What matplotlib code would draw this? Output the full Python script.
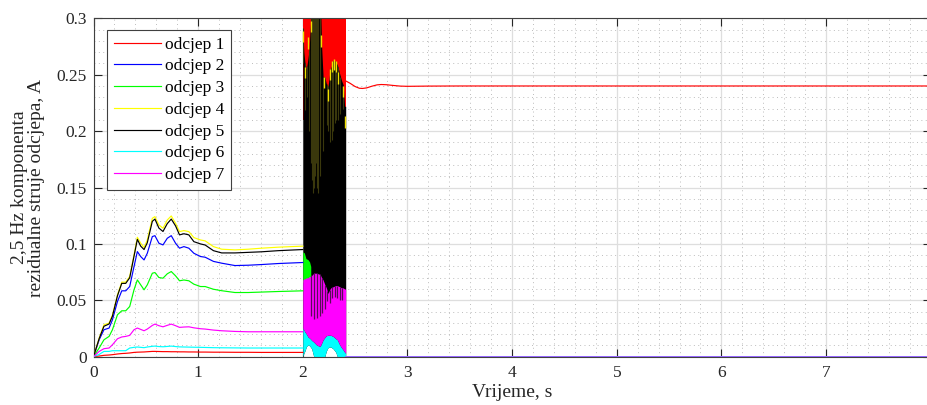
import matplotlib
matplotlib.use('Agg')
import matplotlib.pyplot as plt
from matplotlib.ticker import MultipleLocator

plt.rcParams['font.family'] = ['Liberation Serif', 'DejaVu Serif']

# ---------------- data ----------------
labels = ['odcjep 1', 'odcjep 2', 'odcjep 3', 'odcjep 4', 'odcjep 5', 'odcjep 6', 'odcjep 7']
colors = ['#ff0000', '#0000ff', '#00ff00', '#ffff00', '#000000', '#00ffff', '#ff00ff']

# time before the fault burst (s)
t_pre = [0, 0.054, 0.10, 0.149, 0.181, 0.229, 0.270, 0.308, 0.346, 0.387, 0.419, 0.451,
         0.483, 0.514, 0.562, 0.587, 0.625, 0.664, 0.705, 0.743, 0.784, 0.822, 0.864,
         0.911, 0.959, 1.022, 1.067, 1.146, 1.225, 1.352, 1.479, 1.606, 1.765, 2.0]

s1_pre = [0, 0.0006, 0.0012, 0.0015, 0.0018, 0.0024, 0.0028, 0.003, 0.0033, 0.0038, 0.004,
          0.0041, 0.0042, 0.0044, 0.0047, 0.0047, 0.0046, 0.0045, 0.0045, 0.0044, 0.0044,
          0.0043, 0.0043, 0.0042, 0.0042, 0.0041, 0.0041, 0.004, 0.004, 0.0039, 0.0039,
          0.0038, 0.0038, 0.0038]
s2_pre = [0, 0.015, 0.0239, 0.0254, 0.0327, 0.0489, 0.0584, 0.0584, 0.0622, 0.0799, 0.0932,
          0.0888, 0.0858, 0.0917, 0.1065, 0.1073, 0.1006, 0.0991, 0.105, 0.1073, 0.1006,
          0.0962, 0.0976, 0.0962, 0.0917, 0.0888, 0.0882, 0.0845, 0.0829, 0.0808, 0.0811,
          0.0817, 0.0826, 0.0835]
s3_pre = [0, 0.0077, 0.015, 0.018, 0.0239, 0.0372, 0.0407, 0.0407, 0.0445, 0.0593, 0.0681,
          0.0637, 0.0593, 0.0637, 0.074, 0.0746, 0.0702, 0.0696, 0.0735, 0.0755, 0.0717,
          0.0673, 0.068, 0.0673, 0.0643, 0.0622, 0.0622, 0.0598, 0.0585, 0.0569, 0.0569,
          0.0573, 0.0578, 0.0584]
s4_pre = [0, 0.0165, 0.0283, 0.0298, 0.037, 0.0549, 0.0661, 0.0661, 0.0711, 0.0903, 0.1059,
          0.1006, 0.0968, 0.1035, 0.1227, 0.1242, 0.1168, 0.1139, 0.1212, 0.1248, 0.1183,
          0.1109, 0.1118, 0.1109, 0.1056, 0.1035, 0.1027, 0.0976, 0.0953, 0.0947, 0.0953,
          0.0962, 0.0971, 0.098]
s5_pre = [0, 0.016, 0.027, 0.029, 0.036, 0.054, 0.065, 0.065, 0.070, 0.089, 0.104, 0.098,
          0.095, 0.101, 0.120, 0.122, 0.114, 0.111, 0.118, 0.122, 0.116, 0.108, 0.109, 0.108,
          0.102, 0.100, 0.099, 0.094, 0.092, 0.092, 0.0925, 0.093, 0.094, 0.095]
s6_pre = [0, 0.002, 0.0047, 0.0047, 0.0053, 0.0053, 0.0053, 0.0053, 0.0077, 0.0083, 0.0086,
          0.0083, 0.008, 0.0086, 0.0092, 0.0094, 0.009, 0.0088, 0.0091, 0.0094, 0.009,
          0.0087, 0.0086, 0.0085, 0.0084, 0.0083, 0.0082, 0.008, 0.0079, 0.0078, 0.0077,
          0.0077, 0.0077, 0.0077]
s7_pre = [0, 0.0047, 0.0071, 0.0077, 0.0106, 0.0159, 0.0175, 0.018, 0.0189, 0.0239, 0.0254,
          0.0242, 0.023, 0.0245, 0.0277, 0.0289, 0.0275, 0.0265, 0.0278, 0.0289, 0.0275,
          0.026, 0.0263, 0.0265, 0.0256, 0.0248, 0.0245, 0.0236, 0.023, 0.0224, 0.0221,
          0.0221, 0.0221, 0.0221]
pre_series = [s1_pre, s2_pre, s3_pre, s4_pre, s5_pre, s6_pre, s7_pre]

# after the burst
t_red_after = [2.41, 2.45, 2.5, 2.54, 2.57, 2.61, 2.66, 2.71, 2.75, 2.8, 2.86, 2.93, 3.0,
               3.2, 3.5, 4.0, 5.0, 6.0, 7.0, 8.0]
s1_after = [0.2445, 0.2425, 0.2395, 0.238, 0.2378, 0.2383, 0.2398, 0.241, 0.2413, 0.2411,
            0.2405, 0.2399, 0.2397, 0.2399, 0.24, 0.24, 0.24, 0.24, 0.24, 0.24]
t_zero_after = [2.41, 8.0]
zero_after = [0, 0]

# oscillation burst envelopes (2.0 s - 2.41 s)
t_burst = [2.0, 2.01, 2.02, 2.035, 2.05, 2.06, 2.07, 2.085, 2.105, 2.13, 2.162, 2.17, 2.18,
           2.194, 2.21, 2.225, 2.241, 2.255, 2.267, 2.29, 2.315, 2.33, 2.352, 2.37, 2.386,
           2.4, 2.41]
burst_floor = [0, 0.003, 0.005, 0.009, 0.0105, 0.01, 0.009, 0.007, 0, 0, 0, 0, 0, 0, 0,
               0.005, 0.008, 0.0085, 0.0086, 0.007, 0.004, 0, 0, 0, 0, 0, 0]
black_top = [0.291, 0.27, 0.261, 0.255, 0.265, 0.272, 0.29, 0.31, 0.31, 0.31, 0.31, 0.31,
             0.275, 0.248, 0.248, 0.242, 0.239, 0.25, 0.256, 0.262, 0.261, 0.259, 0.251,
             0.245, 0.241, 0.222, 0.222]
magenta_top = [0.068, 0.069, 0.069, 0.07, 0.07, 0.071, 0.071, 0.072, 0.074, 0.074, 0.073,
               0.072, 0.07, 0.068, 0.064, 0.061, 0.056, 0.059, 0.061, 0.062, 0.063, 0.063,
               0.062, 0.061, 0.061, 0.06, 0.06]
cyan_top = [0.025, 0.024, 0.022, 0.02, 0.0175, 0.0168, 0.016, 0.0145, 0.013, 0.0106, 0.009,
            0.01, 0.012, 0.015, 0.017, 0.0186, 0.019, 0.019, 0.019, 0.018, 0.016, 0.015,
            0.0106, 0.008, 0.006, 0.004, 0.003]
t_red_burst = [2.0, 2.41]
red_burst_low = [0.21, 0.21]
red_burst_high = [0.31, 0.31]
t_green_burst = [2.0, 2.015, 2.03, 2.05, 2.065, 2.076]
green_burst_top = [0.093, 0.092, 0.087, 0.086, 0.084, 0.08]
green_burst_low = [0.066, 0.066, 0.066, 0.066, 0.066, 0.066]

# yellow/black interleaving stripes inside the burst
olive_t = [2.004, 2.022, 2.04, 2.058, 2.08, 2.09, 2.1, 2.11, 2.12, 2.13, 2.14, 2.15,
           2.16, 2.168, 2.19, 2.23, 2.245, 2.262, 2.275, 2.29, 2.305, 2.32,
           2.34, 2.36, 2.38]
olive_bot = [0.26, 0.219, 0.23, 0.2, 0.172, 0.157, 0.145, 0.15, 0.16, 0.172, 0.15, 0.145,
             0.16, 0.185, 0.182, 0.205, 0.2, 0.19, 0.192, 0.2, 0.207, 0.21,
             0.21, 0.215, 0.22]
olive_top = [0.291, 0.26, 0.258, 0.272, 0.3, 0.3, 0.3, 0.3, 0.3, 0.3, 0.3, 0.3, 0.3,
             0.3, 0.248, 0.242, 0.24, 0.255, 0.26, 0.262, 0.262, 0.26, 0.257, 0.248,
             0.24]
tip_t = [2.002, 2.022, 2.047, 2.08, 2.17, 2.2, 2.24, 2.262, 2.283, 2.3, 2.315, 2.335,
         2.38, 2.402]
tip_v = [0.289, 0.257, 0.283, 0.298, 0.285, 0.248, 0.237, 0.255, 0.262, 0.264, 0.262,
         0.252, 0.24, 0.213]
dark_t = [2.083, 2.108, 2.133, 2.162, 2.184, 2.21, 2.235, 2.26, 2.283, 2.311, 2.33, 2.352,
          2.374]
dark_bot = [0.036, 0.033, 0.034, 0.036, 0.039, 0.042, 0.049, 0.048, 0.052, 0.053, 0.052,
            0.05, 0.05]
dark_top = [0.072, 0.074, 0.074, 0.073, 0.07, 0.064, 0.058, 0.059, 0.062, 0.063, 0.063,
            0.062, 0.061]

xticks = [0, 1, 2, 3, 4, 5, 6, 7]
xticklabels = ['0', '1', '2', '3', '4', '5', '6', '7']
yticks = [0, 0.05, 0.1, 0.15, 0.2, 0.25, 0.3]
yticklabels = ['0', '0.05', '0.1', '0.15', '0.2', '0.25', '0.3']

# ---------------- figure ----------------
W, H = 927, 405
fig = plt.figure(figsize=(W / 100, H / 100), dpi=100)
left_px, right_px, top_px, bot_px = 93.5, 930.7, 18.3, 356.7
ax = fig.add_axes([left_px / W, 1 - bot_px / H, (right_px - left_px) / W, (bot_px - top_px) / H])
ax.set_xlim(0, 8)
ax.set_ylim(0, 0.3)

# burst fills
ax.fill_between(t_red_burst, red_burst_low, red_burst_high, color='#ff0000', lw=0, zorder=2.0)
ax.fill_between(t_burst, burst_floor, black_top, color='#000000', lw=0, zorder=2.1)
ax.vlines(olive_t, olive_bot, olive_top, colors='#3a380c', lw=0.8, zorder=2.2)
tip_low = [v - 0.01 for v in tip_v]
ax.vlines(tip_t, tip_low, tip_v, colors='#f0e000', lw=1.0, zorder=2.25)
ax.fill_between(t_green_burst, green_burst_low, green_burst_top, color='#00ff00', lw=0, zorder=2.3)
ax.fill_between(t_burst, burst_floor, cyan_top, color='#00ffff', lw=0, zorder=2.4)
ax.fill_between(t_burst, cyan_top, magenta_top, color='#ff00ff', lw=0, zorder=2.5)
ax.vlines(dark_t, dark_bot, dark_top, colors='#5a0a5a', lw=0.9, zorder=2.55)

# lines
handles = []
for i, (s, c, lab) in enumerate(zip(pre_series, colors, labels)):
    h, = ax.plot(t_pre, s, color=c, lw=0.85, label=lab, zorder=3 + i * 0.01)
    handles.append(h)
ax.plot(t_red_after, s1_after, color=colors[0], lw=0.85, zorder=3)
for i, c in enumerate(colors[1:]):
    ax.plot(t_zero_after, zero_after, color=c, lw=1.4, zorder=3 + i * 0.01,
            alpha=0.6 if i == 5 else 1.0)

# ticks & grid
ax.set_xticks(xticks)
ax.set_xticklabels(xticklabels)
ax.set_yticks(yticks)
ax.set_yticklabels(yticklabels)
ax.xaxis.set_minor_locator(MultipleLocator(0.2))
ax.yaxis.set_minor_locator(MultipleLocator(0.01))
ax.tick_params(which='major', direction='in', top=True, right=True, length=6,
               width=0.8, color='#262626', labelsize=12.5, labelcolor='#262626')
ax.tick_params(axis='x', which='major', pad=6)
ax.tick_params(axis='y', which='major', pad=5)
ax.tick_params(which='minor', length=0)
ax.grid(which='major', color='#dedede', lw=0.9, ls='-')
ax.grid(which='minor', color='#bdbdbd', lw=0.7, ls=(0, (1, 3.5)))
ax.set_axisbelow(True)
for sp in ax.spines.values():
    sp.set_color('#404040')
    sp.set_linewidth(0.8)

ax.set_xlabel('Vrijeme, s', fontsize=14, color='#262626', labelpad=2)
ax.set_ylabel('2,5 Hz komponenta\nrezidualne struje odcjepa, A', fontsize=14,
              color='#262626', linespacing=1.0)
ax.yaxis.set_label_coords(-0.058, 0.5)

leg = ax.legend(handles=handles, loc='upper left',
                bbox_to_anchor=((107 - left_px) / (right_px - left_px), (bot_px - 30) / (bot_px - top_px)),
                borderaxespad=0, fontsize=12.5, handlelength=2.75, handletextpad=0.2,
                labelspacing=0.32, borderpad=0.38, fancybox=False, framealpha=1)
leg.get_frame().set_edgecolor('#404040')
leg.get_frame().set_linewidth(0.8)

fig.savefig('out.png', dpi=100)
